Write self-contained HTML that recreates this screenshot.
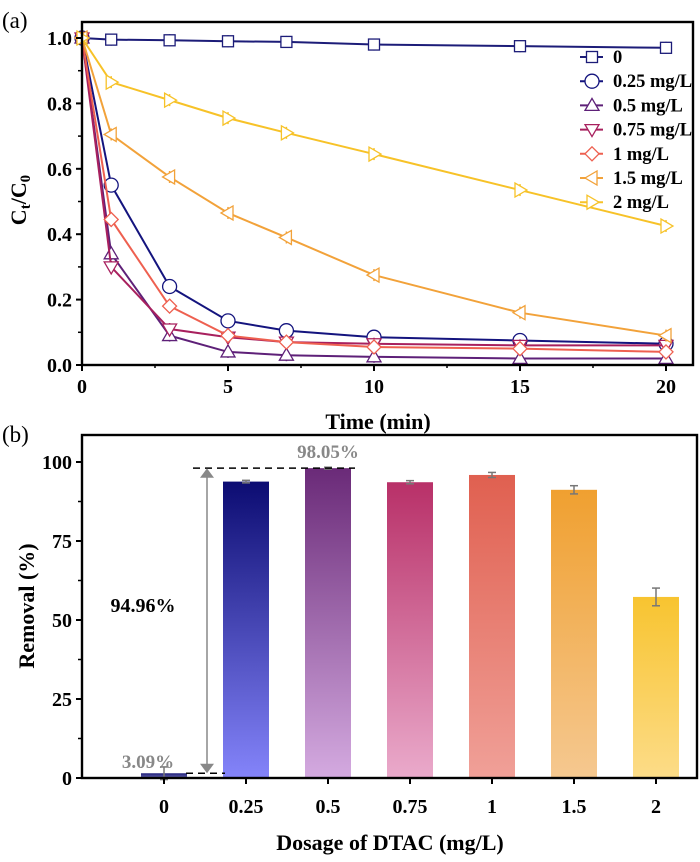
<!DOCTYPE html>
<html><head><meta charset="utf-8"><style>
body{margin:0;background:#fff}
svg text{font-family:"Liberation Serif",serif;font-weight:bold}
</style></head><body>
<svg id="s" width="700" height="857" xmlns="http://www.w3.org/2000/svg">
<defs id="defs"></defs>
<g id="a"></g><g id="b"></g>
</svg>
<script>
const times=[0,1,3,5,7,10,15,20];
const seriesNames=["0","0.25 mg/L","0.5 mg/L","0.75 mg/L","1 mg/L","1.5 mg/L","2 mg/L"];
const s0=[1,0.995,0.993,0.99,0.988,0.98,0.975,0.97];
const s025=[1,0.55,0.24,0.135,0.105,0.085,0.075,0.065];
const s05=[1,0.34,0.09,0.04,0.03,0.025,0.02,0.02];
const s075=[1,0.3,0.11,0.085,0.07,0.065,0.06,0.06];
const s1=[1,0.445,0.18,0.09,0.07,0.055,0.05,0.04];
const s15=[1,0.705,0.575,0.465,0.39,0.275,0.16,0.09];
const s2=[1,0.865,0.81,0.755,0.71,0.645,0.535,0.425];
const xTicks=[0,5,10,15,20];
const yTicks=[0,0.2,0.4,0.6,0.8,1.0];
const cats=["0","0.25","0.5","0.75","1","1.5","2"];
const removal=[1.5,93.8,98.05,93.6,95.9,91.2,57.3];
const removalErr=[2.0,0.4,0.3,0.5,0.8,1.3,2.8];
const bTicks=[0,25,50,75,100];

const NS="http://www.w3.org/2000/svg";
function mk(p,t,at,txt){const e=document.createElementNS(NS,t);for(const k in at)e.setAttribute(k,at[k]);if(txt!=null)e.textContent=txt;p.appendChild(e);return e;}
const A=document.getElementById('a'),B=document.getElementById('b'),D=document.getElementById('defs');
// ---- chart a
const ax=t=>82+t*29.2, ay=v=>365-v*327;
const cols=["#1c1c78","#14147e","#5e2078","#a8205e","#ee6050","#f2a23a","#f7c228"];
const data=[s0,s025,s05,s075,s1,s15,s2];
const shapes=["sq","ci","up","dn","di","lt","rt"];
function marker(g,sh,x,y,c){const r=7;let e;
 if(sh=="sq")e=mk(g,'rect',{x:x-5.5,y:y-5.5,width:11,height:11});
 else if(sh=="ci")e=mk(g,'circle',{cx:x,cy:y,r:r});
 else{let p;
  if(sh=="up")p=[[x,y-r],[x+r,y+5],[x-r,y+5]];
  if(sh=="dn")p=[[x,y+r],[x+r,y-5],[x-r,y-5]];
  if(sh=="di")p=[[x,y-r],[x+r,y],[x,y+r],[x-r,y]];
  if(sh=="lt")p=[[x-r,y],[x+5,y-r],[x+5,y+r]];
  if(sh=="rt")p=[[x+r,y],[x-5,y-r],[x-5,y+r]];
  e=mk(g,'polygon',{points:p.map(q=>q.join(',')).join(' ')});}
 e.setAttribute('fill','#fff');e.setAttribute('stroke',c);e.setAttribute('stroke-width','1.3');return e;}
mk(A,'text',{x:2,y:28,'font-size':23,style:'font-weight:normal'},'(a)');
data.forEach((d,i)=>{const g=mk(A,'g',{});
 
 
 mk(g,'polyline',{points:d.map((v,j)=>ax(times[j])+','+ay(v)).join(' '),fill:'none',stroke:cols[i],'stroke-width':2});
 d.forEach((v,j)=>{const x=ax(times[j]),y=ay(v);mk(g,'line',{x1:x,x2:x,y1:y-6,y2:y+6,stroke:cols[i],'stroke-width':1.5});marker(g,shapes[i],x,y,cols[i]);});
});
const fa=mk(A,'rect',{x:82,y:22,width:611,height:343,fill:'none',stroke:'#000','stroke-width':2.4});

xTicks.forEach(t=>{mk(A,'line',{x1:ax(t),x2:ax(t),y1:365,y2:371,stroke:'#000','stroke-width':2});
 mk(A,'text',{x:ax(t),y:393,'font-size':20,'text-anchor':'middle'},t);});
[2.5,7.5,12.5,17.5].forEach(t=>mk(A,'line',{x1:ax(t),x2:ax(t),y1:365,y2:368,stroke:'#000','stroke-width':1.5}));
yTicks.forEach(v=>{mk(A,'line',{x1:76,x2:82,y1:ay(v),y2:ay(v),stroke:'#000','stroke-width':2});
 mk(A,'text',{x:72,y:ay(v)+7,'font-size':20,'text-anchor':'end'},v.toFixed(1));});
[0.1,0.3,0.5,0.7,0.9].forEach(v=>mk(A,'line',{x1:78,x2:82,y1:ay(v),y2:ay(v),stroke:'#000','stroke-width':1.5}));
const yt=mk(A,'text',{x:0,y:0,'font-size':22,'text-anchor':'middle',transform:'translate(26,200) rotate(-90)'});
yt.innerHTML='C<tspan font-size="15" dy="4">t</tspan><tspan dy="-4">/C</tspan><tspan font-size="15" dy="4">0</tspan>';

const xt=mk(A,'text',{x:378,y:429,'font-size':22,'text-anchor':'middle'},'Time (min)');

const lg=mk(A,'g',{});
seriesNames.forEach((n,i)=>{const y=57+i*24.2;const e=mk(lg,'g',{});
 
 mk(e,'line',{x1:580,x2:603,y1:y,y2:y,stroke:cols[i],'stroke-width':2});marker(e,shapes[i],592,y,cols[i]);
 mk(e,'text',{x:613,y:y+6,'font-size':18.5},n);});
// ---- chart b
const bx=i=>164+i*82, by=v=>778-v*3.16;
const tops=["#1c1c78","#0c0c72","#6a2a78","#b83068","#e06050","#f0a030","#f8c430"];
const bots=["#6a6ab0","#8484fa","#d4aae0","#eaaacb","#f0a098","#f5c890","#fcdc88"];
mk(B,'text',{x:2,y:442,'font-size':23,style:'font-weight:normal'},'(b)');
removal.forEach((v,i)=>{
 const gr=mk(D,'linearGradient',{id:'g'+i,x1:0,y1:0,x2:0,y2:1});
 mk(gr,'stop',{offset:0,'stop-color':tops[i]});mk(gr,'stop',{offset:1,'stop-color':bots[i]});
 const r=mk(B,'rect',{x:bx(i)-23,y:by(v),width:46,height:778-by(v),fill:'url(#g'+i+')'});
 
 const e=removalErr[i];
 mk(B,'line',{x1:bx(i),x2:bx(i),y1:by(v+e),y2:by(v-e),stroke:'#777','stroke-width':1.5});
 mk(B,'line',{x1:bx(i)-4,x2:bx(i)+4,y1:by(v+e),y2:by(v+e),stroke:'#777','stroke-width':1.5});
 mk(B,'line',{x1:bx(i)-4,x2:bx(i)+4,y1:by(v-e),y2:by(v-e),stroke:'#777','stroke-width':1.5});
});
mk(B,'line',{x1:193,x2:355,y1:by(98.05),y2:by(98.05),stroke:'#000','stroke-width':1.5,'stroke-dasharray':'7,5'});
mk(B,'line',{x1:186,x2:225,y1:by(1.5),y2:by(1.5),stroke:'#000','stroke-width':1.5,'stroke-dasharray':'7,5'});
mk(B,'line',{x1:207,x2:207,y1:by(97),y2:by(2.5),stroke:'#888','stroke-width':1.5});
mk(B,'polygon',{points:`200,${by(95)} 207,${by(98)} 214,${by(95)}`,fill:'#888'});
mk(B,'polygon',{points:`200,${by(4.5)} 207,${by(1.5)} 214,${by(4.5)}`,fill:'#888'});
mk(B,'text',{x:143,y:612,'font-size':20,'text-anchor':'middle'},'94.96%');
mk(B,'text',{x:328,y:458,'font-size':19,'text-anchor':'middle',fill:'#888'},'98.05%');
mk(B,'text',{x:148,y:768,'font-size':19,'text-anchor':'middle',fill:'#888'},'3.09%');
const fb=mk(B,'rect',{x:82,y:435,width:615,height:343,fill:'none',stroke:'#000','stroke-width':2.4});

cats.forEach((c,i)=>{mk(B,'line',{x1:bx(i),x2:bx(i),y1:778,y2:784,stroke:'#000','stroke-width':2});
 mk(B,'text',{x:bx(i),y:813,'font-size':20,'text-anchor':'middle'},c);});
bTicks.forEach(v=>{mk(B,'line',{x1:76,x2:82,y1:by(v),y2:by(v),stroke:'#000','stroke-width':2});
 mk(B,'text',{x:72,y:by(v)+7,'font-size':20,'text-anchor':'end'},v);});
[12.5,37.5,62.5,87.5].forEach(v=>mk(B,'line',{x1:78,x2:82,y1:by(v),y2:by(v),stroke:'#000','stroke-width':1.5}));
const yb=mk(B,'text',{x:0,y:0,'font-size':22,'text-anchor':'middle',transform:'translate(34,606) rotate(-90)'},'Removal (%)');

const xb=mk(B,'text',{x:390,y:850,'font-size':22,'text-anchor':'middle'},'Dosage of DTAC (mg/L)');

</script>
</body></html>
